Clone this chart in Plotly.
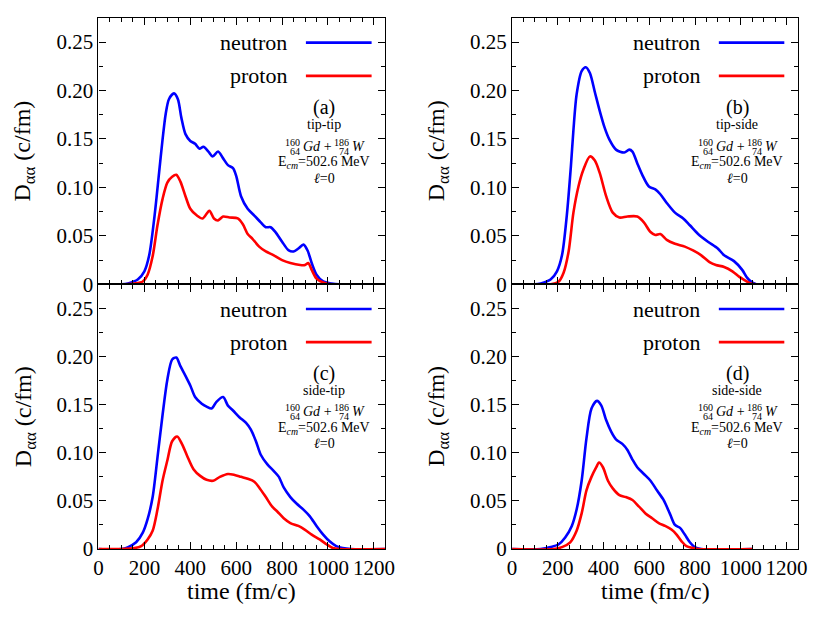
import plotly.graph_objects as go

# ---- data (time in fm/c, D in c/fm) ----

# (a) tip-tip
t_a_n = [0, 100, 129, 171, 200, 221, 243, 264, 279, 293, 307, 329, 346, 361, 379, 400, 421, 440, 457, 479,
         497, 521, 543, 564, 586, 600, 621, 650, 679, 707, 729, 750, 771, 800, 829, 850, 871, 893, 911, 929,
         950, 979, 1014, 1050, 1250]
d_a_n = [0, 0, 0.001, 0.005, 0.0135, 0.030, 0.068, 0.115, 0.149, 0.176, 0.191, 0.197, 0.191, 0.172, 0.155,
         0.148, 0.145, 0.140, 0.142, 0.137, 0.132, 0.137, 0.130, 0.123, 0.120, 0.112, 0.091, 0.078, 0.071,
         0.064, 0.059, 0.059, 0.054, 0.044, 0.035, 0.034, 0.037, 0.041, 0.035, 0.022, 0.010, 0.003, 0.001, 0, 0]
t_a_p = [0, 100, 157, 193, 214, 236, 257, 279, 300, 321, 339, 357, 379, 400, 429, 454, 483, 503, 521, 543,
         571, 607, 629, 650, 671, 700, 729, 764, 800, 836, 879, 900, 914, 929, 950, 979, 1014, 1250]
d_a_p = [0, 0, 0.001, 0.003, 0.010, 0.029, 0.061, 0.088, 0.105, 0.111, 0.113, 0.106, 0.091, 0.078, 0.071,
         0.068, 0.076, 0.068, 0.066, 0.070, 0.069, 0.068, 0.062, 0.052, 0.047, 0.039, 0.034, 0.030, 0.025,
         0.022, 0.020, 0.020, 0.022, 0.015, 0.006, 0.002, 0, 0]

# (b) tip-side
t_b_n = [0, 100, 125, 168, 196, 218, 239, 257, 268, 282, 304, 322, 340, 361, 383, 404, 426, 454, 490, 512,
         526, 547, 569, 598, 626, 648, 676, 712, 748, 777, 813, 856, 899, 927, 970, 1006, 1027, 1049, 1070, 1250]
d_b_n = [0, 0, 0.001, 0.005, 0.0135, 0.030, 0.071, 0.122, 0.159, 0.196, 0.220, 0.224, 0.218, 0.199, 0.179,
         0.162, 0.149, 0.139, 0.136, 0.139, 0.137, 0.125, 0.113, 0.101, 0.098, 0.093, 0.084, 0.074, 0.068,
         0.061, 0.052, 0.044, 0.037, 0.030, 0.024, 0.015, 0.007, 0.002, 0, 0]
t_b_p = [0, 100, 168, 204, 225, 247, 268, 290, 311, 340, 361, 383, 411, 440, 469, 504, 547, 576, 605, 626,
         648, 676, 712, 755, 791, 827, 863, 891, 927, 963, 992, 1013, 1042, 1070, 1250]
d_b_p = [0, 0, 0, 0.003, 0.012, 0.034, 0.074, 0.101, 0.118, 0.132, 0.128, 0.115, 0.091, 0.074, 0.069,
         0.070, 0.070, 0.064, 0.054, 0.051, 0.052, 0.046, 0.042, 0.039, 0.035, 0.030, 0.023, 0.020, 0.018,
         0.0135, 0.008, 0.005, 0.001, 0, 0]

# (c) side-tip
t_c_n = [0, 100, 129, 164, 193, 214, 236, 257, 279, 300, 321, 339, 357, 379, 400, 421, 450, 471, 493, 514,
         543, 564, 586, 614, 643, 664, 686, 707, 736, 764, 786, 807, 836, 864, 893, 921, 950, 979, 1007, 1036,
         1064, 1100, 1250]
d_c_n = [0, 0, 0.002, 0.007, 0.017, 0.031, 0.054, 0.095, 0.139, 0.176, 0.197, 0.199, 0.190, 0.180, 0.170,
         0.158, 0.151, 0.148, 0.146, 0.153, 0.158, 0.149, 0.144, 0.137, 0.131, 0.124, 0.112, 0.098, 0.088,
         0.081, 0.075, 0.064, 0.054, 0.047, 0.041, 0.034, 0.024, 0.015, 0.008, 0.003, 0.001, 0, 0]
t_c_p = [0, 100, 157, 186, 214, 236, 257, 279, 300, 321, 343, 364, 386, 414, 443, 471, 500, 529, 564, 593,
         621, 650, 679, 700, 729, 757, 779, 807, 836, 871, 900, 929, 964, 993, 1021, 1050, 1250]
d_c_p = [0, 0, 0.001, 0.003, 0.010, 0.019, 0.041, 0.071, 0.092, 0.112, 0.117, 0.109, 0.097, 0.083, 0.076,
         0.072, 0.071, 0.075, 0.078, 0.077, 0.075, 0.073, 0.070, 0.064, 0.054, 0.044, 0.039, 0.032, 0.027,
         0.024, 0.020, 0.015, 0.010, 0.005, 0.001, 0, 0]

# (d) side-side
t_d_n = [0, 125, 168, 204, 232, 261, 282, 304, 325, 347, 371, 390, 411, 433, 454, 483, 504, 526, 547, 576,
         605, 633, 662, 691, 712, 734, 755, 777, 798, 827, 1050]
d_d_n = [0, 0, 0.002, 0.005, 0.012, 0.024, 0.041, 0.071, 0.115, 0.146, 0.154, 0.149, 0.134, 0.122, 0.114,
         0.109, 0.103, 0.093, 0.085, 0.078, 0.071, 0.061, 0.051, 0.036, 0.025, 0.022, 0.015, 0.007, 0.002, 0, 0]
t_d_p = [0, 182, 218, 254, 282, 304, 325, 347, 368, 380, 397, 419, 440, 469, 497, 526, 555, 583, 612, 641,
         669, 698, 719, 741, 762, 791, 813, 1050]
d_d_p = [0, 0, 0.002, 0.007, 0.019, 0.037, 0.061, 0.075, 0.085, 0.090, 0.085, 0.071, 0.063, 0.056, 0.054,
         0.051, 0.044, 0.037, 0.032, 0.027, 0.024, 0.020, 0.015, 0.008, 0.003, 0.001, 0, 0]

panels = [
    ("x", "y", "(a)", "tip-tip", t_a_n, d_a_n, t_a_p, d_a_p),
    ("x2", "y2", "(b)", "tip-side", t_b_n, d_b_n, t_b_p, d_b_p),
    ("x3", "y3", "(c)", "side-tip", t_c_n, d_c_n, t_c_p, d_c_p),
    ("x4", "y4", "(d)", "side-side", t_d_n, d_d_n, t_d_p, d_d_p),
]

BLUE = "#0000ff"
RED = "#ff0000"
FONT = "Times New Roman, Liberation Serif, DejaVu Serif, serif"


def note(text, xd, yd, x, y, size, xanchor="center", **kw):
    return dict(text=text, xref=xd, yref=yd, x=x, y=y, xanchor=xanchor, yanchor="middle",
                showarrow=False, borderpad=0, font=dict(size=size, family=FONT, color="black"), **kw)


fig = go.Figure()
annotations = []
shapes = []

for xr, yr, tag, config, tn, dn, tp, dp in panels:
    fig.add_trace(go.Scatter(x=tn, y=dn, xaxis=xr, yaxis=yr, mode="lines",
                             line=dict(color=BLUE, width=2.6, shape="spline", smoothing=0.8),
                             showlegend=False))
    fig.add_trace(go.Scatter(x=tp, y=dp, xaxis=xr, yaxis=yr, mode="lines",
                             line=dict(color=RED, width=2.6, shape="spline", smoothing=0.8),
                             showlegend=False))

    xd, yd = xr + " domain", yr + " domain"

    # legend, text on the left and sample line on the right
    for name, col, ly in [("neutron", BLUE, 0.907), ("proton", RED, 0.782)]:
        annotations.append(note(name, xd, yd, 0.662, ly, 22, xanchor="right"))
        shapes.append(dict(type="line", xref=xd, yref=yd, x0=0.723, x1=0.952, y0=ly, y1=ly,
                           line=dict(color=col, width=2.6)))

    # panel label block
    cx = 0.787
    annotations.append(note(tag, xd, yd, cx, 0.662, 20))
    annotations.append(note(config, xd, yd, cx, 0.600, 14))
    # 160/64 Gd + 186/74 W with stacked prescripts
    fy = 0.518
    for txt, anchor, dx, dy, sz in [("160", "right", -23, 4, 10), ("64", "right", -23, -5, 10),
                                    ("<i>Gd</i> +", "left", -22, 0, 14),
                                    ("186", "right", 26, 4, 10), ("74", "right", 26, -5, 10),
                                    ("<i>W</i>", "left", 27, 0, 14)]:
        annotations.append(note(txt, xd, yd, cx, fy, sz, xanchor=anchor, xshift=dx, yshift=dy))
    annotations.append(note("E<sub><i>cm</i></sub>=502.6 MeV", xd, yd, cx, 0.456, 14))
    annotations.append(note("<i>ℓ</i>=0", xd, yd, cx, 0.397, 14))

    # y axis title
    annotations.append(note("D<sub>αα</sub> (c/fm)", xd, yd, 0, 0.5, 24, xshift=-74, textangle=-90))

# x axis titles under the bottom panels
for xr, yr in [("x3", "y3"), ("x4", "y4")]:
    annotations.append(note("time (fm/c)", xr + " domain", yr + " domain", 0.5, 0, 24, yshift=-42))

# the page body keeps an 8 px margin all round, so the figure is 16 px smaller than
# the 817x620 window and every page position below is shifted by 8 px
W, H = 801, 604
xL = [(95 - 8) / W, (387 - 8) / W]
xR = [(516 - 8) / W, (807 - 8) / W]
yT = [(612 - 290) / H, (612 - 18) / H]
yB = [(612 - 560) / H, (612 - 290) / H]

common = dict(showline=True, linecolor="black", linewidth=1.3, mirror="ticks", ticks="inside",
              ticklen=7, tickwidth=1.2, tickcolor="black", showgrid=False, zeroline=False,
              tickfont=dict(size=21, family=FONT, color="black"))
xcommon = dict(common, range=[0, 1250], tickvals=[0, 200, 400, 600, 800, 1000, 1200],
               minor=dict(dtick=50, tick0=0, ticks="inside", ticklen=4, tickcolor="black"))
ycommon = dict(common, range=[0, 0.275], tickvals=[0, 0.05, 0.10, 0.15, 0.20, 0.25],
               ticktext=["0", "0.05", "0.10", "0.15", "0.20", "0.25"],
               minor=dict(dtick=0.025, tick0=0, ticks="inside", ticklen=4, tickcolor="black"))

fig.update_layout(
    width=W, height=H,
    margin=dict(l=0, r=0, t=0, b=0),
    paper_bgcolor="white", plot_bgcolor="white",
    font=dict(family=FONT, color="black"),
    xaxis=dict(xcommon, domain=xL, anchor="y", showticklabels=False),
    yaxis=dict(ycommon, domain=yT, anchor="x"),
    xaxis2=dict(xcommon, domain=xR, anchor="y2", showticklabels=False),
    yaxis2=dict(ycommon, domain=yT, anchor="x2"),
    xaxis3=dict(xcommon, domain=xL, anchor="y3"),
    yaxis3=dict(ycommon, domain=yB, anchor="x3"),
    xaxis4=dict(xcommon, domain=xR, anchor="y4"),
    yaxis4=dict(ycommon, domain=yB, anchor="x4"),
    annotations=annotations,
    shapes=shapes,
)

fig.write_html("out.html")
